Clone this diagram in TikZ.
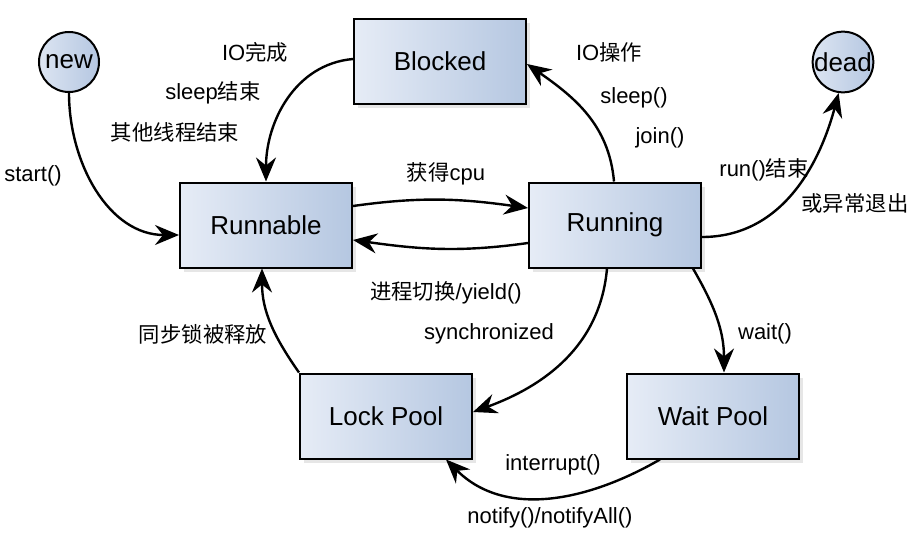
\documentclass[tikz,border=0pt]{standalone}
\usepackage{fontspec}
\setmainfont{Liberation Sans}
\newfontfamily\cjk[Scale=0.97]{Noto Sans CJK SC}
\usetikzlibrary{arrows.meta,shadows,positioning}
\definecolor{boxlight}{HTML}{E6ECF6}
\definecolor{boxdark}{HTML}{B5C7E1}

\begin{document}
\begin{tikzpicture}[x=1pt, y=1pt]
\tikzset{state/.style={draw, line width=2pt, left color=boxlight, right color=boxdark,
				minimum width=172pt, minimum height=85pt, font=\fontsize{26}{30}\selectfont,
				drop shadow={shadow xshift=4pt, shadow yshift=-4pt, opacity=0.2}},
		endpoint/.style={circle, draw, line width=2pt, left color=boxlight!80!boxdark, right color=boxdark,
				minimum size=60pt, inner sep=0pt, font=\fontsize{26}{30}\selectfont},
		trans/.style={line width=2.4pt, -{Stealth[length=24pt, width=20pt, inset=8pt]}},
		lbl/.style={font=\fontsize{22}{26}\selectfont, inner sep=1pt}}
				\useasboundingbox (0,0) rectangle (922,-538);
				\node[endpoint] (new) at (69,-62) {new};
				\node[endpoint] (dead) at (843,-62) {dead};
				\node[state] (blocked) at (440,-61) {Blocked};
				\node[state] (runnable) at (266,-225) {Runnable};
				\node[state] (running) at (615,-225) {Running};
				\node[state] (lockpool) at (386,-416) {Lock Pool};
				\node[state] (waitpool) at (713,-416) {Wait Pool};

				\draw[trans] (new.south) to[out=-90, in=180] ([yshift=-10pt]runnable.west);
				\draw[trans] ([yshift=2pt]blocked.west) to[out=185, in=90] (runnable.north);
				\draw[trans] ([yshift=19pt]runnable.east) to[out=8, in=172] ([yshift=17pt]running.west);
				\draw[trans] ([yshift=-18pt]running.west) to[out=188, in=-8] ([yshift=-15pt]runnable.east);
				\draw[trans] ([xshift=-1pt]running.north) to[out=95, in=-35] ([yshift=-3pt]blocked.east);
				\draw[trans] ([yshift=-12pt]running.east) to[out=0, in=-105] (dead.-98);
				\draw[trans] ([xshift=-8pt]running.south) to[out=-95, in=20] ([yshift=4pt]lockpool.east);
				\draw[trans] ([xshift=78pt]running.south) to[out=-60, in=90] ([xshift=11pt]waitpool.north);
				\draw[trans] ([xshift=-53pt]waitpool.south) to[out=-150, in=-45] ([xshift=60pt]lockpool.south);
				\draw[trans] (lockpool.north west) to[out=125, in=-90] ([xshift=-4pt]runnable.south);

				\node[lbl] (l-start) at (33,-176) {start()};
				\node[lbl] (l-io) at (255,-52) {IO{\cjk 完成}};
				\node[lbl] (l-sleepend) at (213,-93) {sleep{\cjk 结束}};
				\node[lbl] (l-other) at (175,-132) {\cjk 其他线程结束};
				\node[lbl] (l-cpu) at (446,-174) {{\cjk 获得}cpu};
				\node[lbl] (l-yield) at (446,-293) {{\cjk 进程切换}/yield()};
				\node[lbl] (l-ioop) at (609,-52) {IO{\cjk 操作}};
				\node[lbl] (l-sleep) at (634,-98) {sleep()};
				\node[lbl] (l-join) at (660,-138) {join()};
				\node[lbl] (l-runend) at (764,-170) {run(){\cjk 结束}};
				\node[lbl] (l-exc) at (855,-203) {\cjk 或异常退出};
				\node[lbl] (l-sync) at (489,-334) {synchronized};
				\node[lbl] (l-wait) at (765,-334) {wait()};
				\node[lbl] (l-release) at (203,-334) {\cjk 同步锁被释放};
				\node[lbl] (l-intr) at (553,-465) {interrupt()};
				\node[lbl] (l-notify) at (550,-518) {notify()/notifyAll()};
\end{tikzpicture}
\end{document}
